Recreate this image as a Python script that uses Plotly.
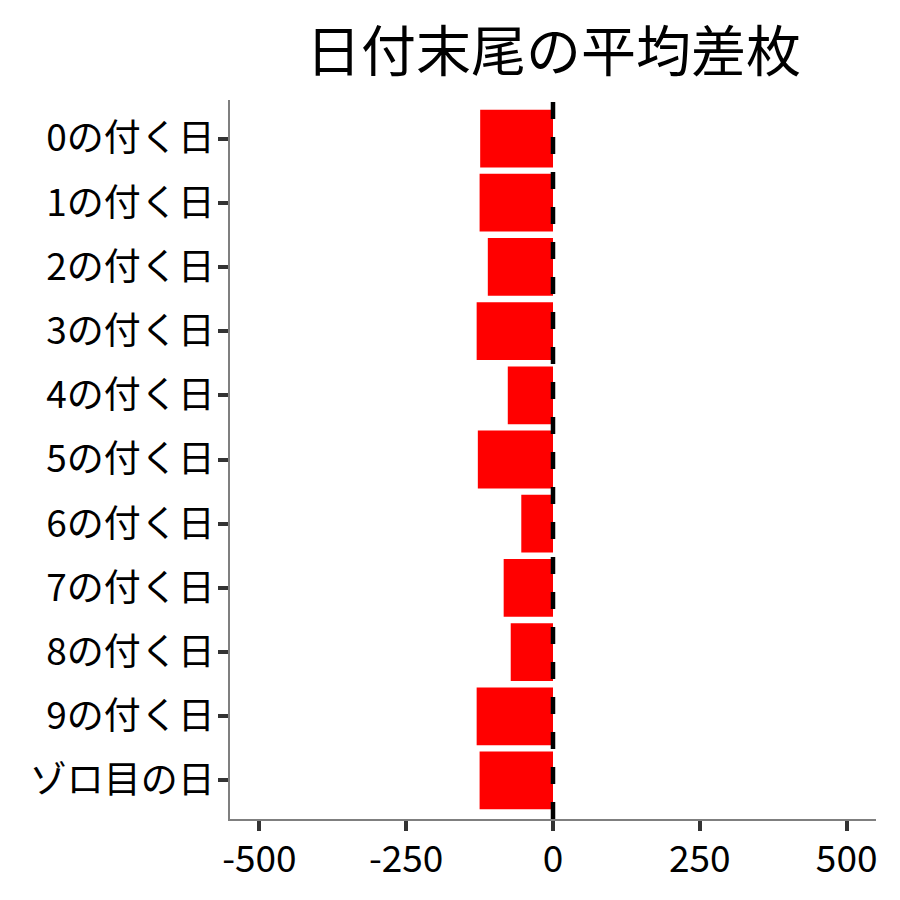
import plotly.graph_objects as go

categories = ["0の付く日", "1の付く日", "2の付く日", "3の付く日", "4の付く日",
              "5の付く日", "6の付く日", "7の付く日", "8の付く日", "9の付く日", "ゾロ目の日"]
values = [-124, -125, -111, -130, -77, -128, -54, -84, -72, -130, -125]
x_ticks = [-500, -250, 0, 250, 500]
x_tick_labels = ["-500", "-250", "0", "250", "500"]
ref_value = 0
title_text = "日付末尾の平均差枚"

FONT = "Noto Sans CJK JP"

fig = go.Figure()
fig.add_trace(go.Bar(
    y=categories, x=values, orientation="h",
    marker=dict(color="#FF0000", line=dict(width=0)),
    width=0.9,
))

fig.add_shape(type="line", xref="x", yref="paper",
              x0=ref_value, x1=ref_value, y0=0, y1=1,
              line=dict(color="black", width=4.5, dash="17px,18px"))

fig.add_annotation(text=title_text, x=0.5, xref="paper", xanchor="center",
                   y=1.074, yref="paper", yanchor="middle", showarrow=False,
                   font=dict(family=FONT, size=55, color="black"))

fig.update_layout(
    width=900, height=900,
    paper_bgcolor="white", plot_bgcolor="white",
    margin=dict(l=222, r=32, t=92, b=89),
    showlegend=False,
    font=dict(family=FONT, color="black"),
    xaxis=dict(range=[-550, 550], tickvals=x_ticks, ticktext=x_tick_labels,
               showgrid=False, zeroline=False,
               showline=True, linecolor="#7f7f7f", linewidth=1.5,
               ticks="outside", ticklen=10, tickwidth=3.5, tickcolor="#333333",
               ticklabelstandoff=-3,
               tickfont=dict(family=FONT, size=37, color="black")),
    yaxis=dict(type="category", categoryorder="array", categoryarray=categories,
               range=[10.6, -0.6],
               showgrid=False, zeroline=False,
               showline=True, linecolor="#7f7f7f", linewidth=1.5,
               ticks="outside", ticklen=10, tickwidth=3.5, tickcolor="#333333",
               ticklabelstandoff=-4,
               tickfont=dict(family=FONT, size=37, color="black")),
)

fig.write_html("out.html")
